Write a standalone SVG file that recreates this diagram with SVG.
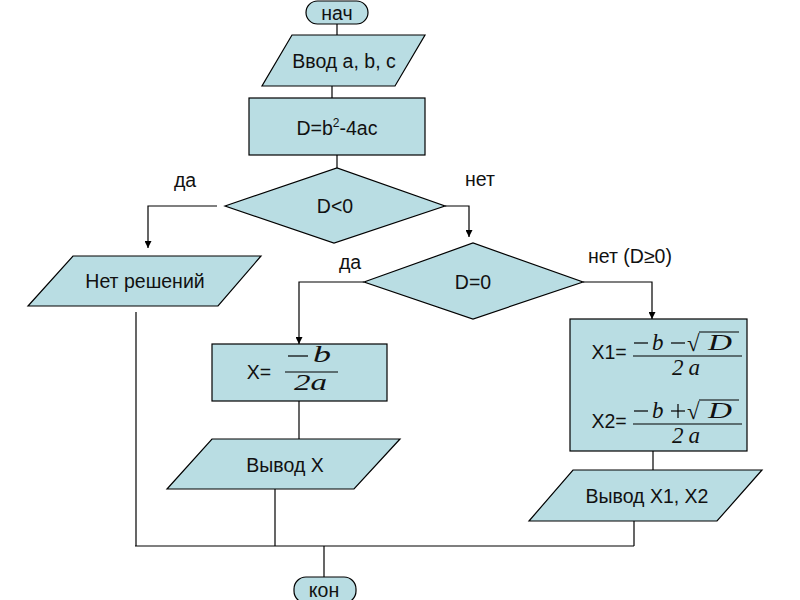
<svg xmlns="http://www.w3.org/2000/svg" width="800" height="600" viewBox="0 0 800 600">
<defs>
<marker id="arr" viewBox="0 0 10 10" refX="10" refY="5" markerWidth="7" markerHeight="7" markerUnits="userSpaceOnUse" orient="auto">
<path d="M0,0 L10,5 L0,10 z" fill="#000"/>
</marker>
<style>
.s{fill:#b9dde3;stroke:#000;stroke-width:1.2}
.t{font-family:"Liberation Sans",Arial,sans-serif;font-size:19.5px;fill:#111;text-anchor:middle;dominant-baseline:central}
.m{font-family:"Liberation Serif","Times New Roman",serif;font-style:italic;fill:#111}
.r{font-family:"Liberation Serif","Times New Roman",serif;fill:#111}
.c{fill:none;stroke:#000;stroke-width:1.2}
.f{stroke:#000;stroke-width:1.2}
</style>
</defs>
<rect width="800" height="600" fill="#fff"/>
<g id="connectors">
<path class="c" d="M337,23 V35"/>
<path class="c" d="M332,86 V98"/>
<path class="c" d="M337,155 V168"/>
<path class="c" d="M217,206 H148 V248" marker-end="url(#arr)"/>
<path class="c" d="M445,206 H469 V237" marker-end="url(#arr)"/>
<path class="c" d="M364,282 H299 V344" marker-end="url(#arr)"/>
<path class="c" d="M583,282 H652 V319" marker-end="url(#arr)"/>
<path class="c" d="M299,401 V439"/>
<path class="c" d="M653,451 V470"/>
<path class="c" d="M136,312 V546"/>
<path class="c" d="M275,489 V546"/>
<path class="c" d="M634,521 V546"/>
<path class="c" d="M135,546 H634"/>
<path class="c" d="M324,546 V577"/>
<text class="t" x="185" y="180">да</text>
<text class="t" x="480" y="179">нет</text>
<text class="t" x="350" y="262">да</text>
<text class="t" x="630" y="256">нет (D≥0)</text>
</g>
<g id="start">
<rect class="s" x="306" y="1" width="62" height="23" rx="11.5"/>
<text class="t" x="337" y="13">нач</text>
</g>
<g id="input">
<polygon class="s" points="292,35 425,35 395,86 262,86"/>
<text class="t" x="344" y="61">Ввод a, b, c</text>
</g>
<g id="disc">
<rect class="s" x="249" y="98" width="176" height="57"/>
<text class="t" x="337" y="128">D=b<tspan font-size="12" dy="-5">2</tspan><tspan dy="5">-4ac</tspan></text>
</g>
<g id="cond1">
<polygon class="s" points="225,206 337,168 445,206 334,243"/>
<text class="t" x="335" y="206">D&lt;0</text>
</g>
<g id="nosol">
<polygon class="s" points="73,256 261,256 218,306 28,306"/>
<text class="t" x="145" y="281">Нет решений</text>
</g>
<g id="cond2">
<polygon class="s" points="364,282 473,243 583,282 473,319"/>
<text class="t" x="473" y="282">D=0</text>
</g>
<g id="onex">
<rect class="s" x="212" y="344" width="175" height="57"/>
<text class="t" x="259" y="372">X=</text>
<line class="f" x1="288" y1="356" x2="308" y2="356"/>
<text class="m" x="313" y="362" font-size="23" textLength="18" lengthAdjust="spacingAndGlyphs">b</text>
<line class="f" x1="285" y1="372" x2="338" y2="372"/>
<text class="m" x="294" y="390" font-size="23" textLength="33" lengthAdjust="spacingAndGlyphs">2a</text>
</g>
<g id="outx">
<polygon class="s" points="212,439 400,439 354,489 167,489"/>
<text class="t" x="285" y="465">Вывод X</text>
</g>
<g id="twox">
<rect class="s" x="570" y="319" width="177" height="132"/>
<text class="t" x="609" y="352">X1=</text>
<line class="f" x1="634" y1="343" x2="648" y2="343"/>
<text class="m" x="652" y="350" font-size="23">b</text>
<line class="f" x1="671" y1="343" x2="685" y2="343"/>
<text class="r" x="687" y="351" font-size="23">√</text>
<line class="f" x1="699" y1="332" x2="739" y2="332"/>
<text class="m" x="708" y="350" font-size="23" textLength="24" lengthAdjust="spacingAndGlyphs">D</text>
<line class="f" x1="633" y1="356" x2="742" y2="356"/>
<text class="m" x="672" y="375" font-size="23" textLength="28" lengthAdjust="spacing">2a</text>
<text class="t" x="609" y="421">X2=</text>
<line class="f" x1="634" y1="411" x2="648" y2="411"/>
<text class="m" x="652" y="418" font-size="23">b</text>
<line class="f" x1="671" y1="411" x2="685" y2="411"/>
<line class="f" x1="678" y1="404" x2="678" y2="418"/>
<text class="r" x="687" y="419" font-size="23">√</text>
<line class="f" x1="699" y1="400" x2="739" y2="400"/>
<text class="m" x="708" y="418" font-size="23" textLength="24" lengthAdjust="spacingAndGlyphs">D</text>
<line class="f" x1="633" y1="424" x2="742" y2="424"/>
<text class="m" x="672" y="443" font-size="23" textLength="28" lengthAdjust="spacing">2a</text>
</g>
<g id="outx12">
<polygon class="s" points="573,470 762,470 717,521 529,521"/>
<text class="t" x="647" y="496">Вывод X1, X2</text>
</g>
<g id="end">
<rect class="s" x="294" y="577" width="62" height="26" rx="12"/>
<text class="t" x="324" y="590">кон</text>
</g>
</svg>
